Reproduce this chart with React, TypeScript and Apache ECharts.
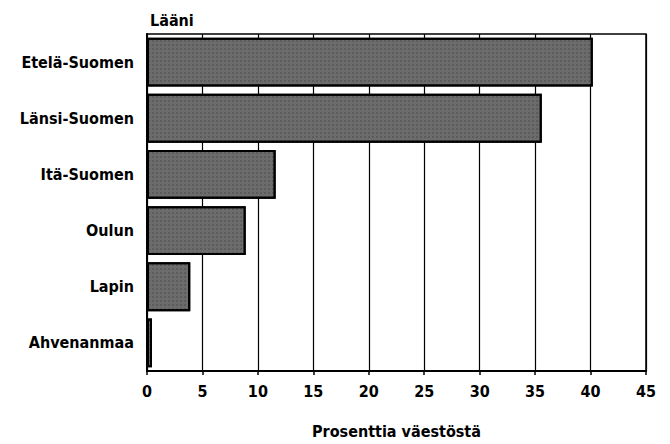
import React, { useEffect, useRef } from "react";
import * as echarts from "echarts";

const categories = ["Etelä-Suomen", "Länsi-Suomen", "Itä-Suomen", "Oulun", "Lapin", "Ahvenanmaa"];
const values = [40.2, 35.6, 11.6, 8.9, 3.9, 0.45];
const xTicks = [0, 5, 10, 15, 20, 25, 30, 35, 40, 45];
const yTitle = "Lääni";
const xTitle = "Prosenttia väestöstä";

const FONT = "'DejaVu Sans Condensed', 'Liberation Sans', Arial, sans-serif";

export default function App() {
  const ref = useRef<HTMLDivElement>(null);
  useEffect(() => {
    if (!ref.current) return;
    const chart = echarts.init(ref.current, undefined, { renderer: "svg" });
    chart.setOption({
      animation: false,
      backgroundColor: "#fff",
      title: {
        text: yTitle,
        left: 145,
        top: 7,
        textStyle: { fontFamily: FONT, fontSize: 16, fontWeight: "bold", color: "#000" },
      },
      grid: {
        left: 147,
        right: 24,
        top: 34,
        bottom: 72,
        show: true,
        borderColor: "#000",
        borderWidth: 1.5,
        backgroundColor: "transparent",
      },
      xAxis: {
        type: "value",
        min: xTicks[0],
        max: xTicks[xTicks.length - 1],
        interval: 5,
        name: xTitle,
        nameLocation: "middle",
        nameGap: 52,
        nameTextStyle: { fontFamily: FONT, fontSize: 16, fontWeight: "bold", color: "#000" },
        axisLine: { show: true, lineStyle: { color: "#000", width: 2 } },
        axisTick: { show: true, length: 4, lineStyle: { color: "#000", width: 1.5 } },
        splitLine: { show: true, lineStyle: { color: "#000", width: 1.2 } },
        axisLabel: { margin: 12, fontFamily: FONT, fontSize: 16, fontWeight: "bold", color: "#000" },
      },
      yAxis: {
        type: "category",
        data: categories,
        inverse: true,
        axisLine: { show: true, lineStyle: { color: "#000", width: 2 } },
        axisTick: { show: false },
        axisLabel: { margin: 13, fontFamily: FONT, fontSize: 16, fontWeight: "bold", color: "#000" },
      },
      series: [
        {
          type: "bar",
          data: values,
          barCategoryGap: "13%",
          itemStyle: {
            color: "#6c6c6c",
            borderColor: "#000",
            borderWidth: 2,
            decal: {
              symbol: "rect",
              symbolSize: 0.6,
              color: "rgba(10,10,10,0.55)",
              dashArrayX: [2, 2],
              dashArrayY: [2, 2],
              rotation: 0,
            },
          },
        },
      ],
    });
    return () => chart.dispose();
  }, []);
  return <div ref={ref} style={{ width: 670, height: 444, position: "absolute", left: 0, top: 0 }} />;
}
